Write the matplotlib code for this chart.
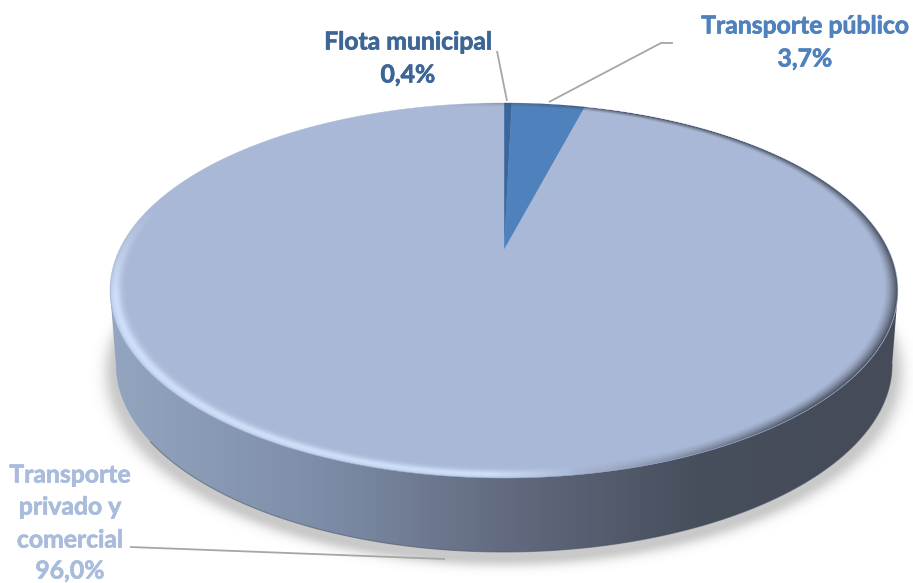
import numpy as np
import matplotlib
matplotlib.use("Agg")
import matplotlib.pyplot as plt
import matplotlib.patheffects as pe
from matplotlib.colors import LinearSegmentedColormap, to_rgb
from matplotlib.patches import Polygon

plt.rcParams['font.family'] = ['Lato', 'DejaVu Sans']

# Data
categories = ['Flota municipal', 'Transporte público', 'Transporte\nprivado y\ncomercial']
values = [0.4, 3.7, 96.0]
value_labels = ['0,4%', '3,7%', '96,0%']
slice_colors = ['#3b669c', '#4f81bd', '#a9b8d6']
label_colors = ['#3d6696', '#4f81bd', '#a9bcdc']

W, H = 913, 583

# Perspective of the pie disc, in picture pixels
X0, Y0 = 504, 250
RX = 384.7
A, C = -124.75, 0.216
DEPTH = 74


def project(u, v, dy=0.0, sx=1.0):
    return X0 + sx * RX * u / (1 + C * v), (A * v + Y0) / (1 + C * v) + dy


def unproject(x, y, dy=0.0, sx=1.0):
    v = (y - dy - Y0) / (A - C * (y - dy))
    u = (x - X0) * (1 + C * v) / (RX * sx)
    return u, v


fig = plt.figure(figsize=(W / 100, H / 100), dpi=100)
ax = fig.add_axes([0, 0, 1, 1])

# let pie work out the slice angles, then redraw them in perspective
wedges, _ = ax.pie(values, startangle=90, counterclock=False, normalize=True)
angles = [(w.theta1, w.theta2) for w in wedges]
for w in wedges:
    w.remove()
ax.set_aspect('auto')
ax.set_xlim(0, W)
ax.set_ylim(H, 0)
ax.axis('off')

xx, yy = np.meshgrid(np.arange(W) + 0.5, np.arange(H) + 0.5)
extent = (0, W, H, 0)

# soft shadow under the disc
u, v = unproject(xx, yy, DEPTH + 6, 0.985)
r = np.hypot(u, v)
d = np.clip((r - 1) * 360, 0, None)
shadow = np.zeros((H, W, 4))
shadow[..., :3] = 0.45
shadow[..., 3] = 0.38 * np.exp(-(d / 11) ** 2)
ax.imshow(shadow, extent=extent, zorder=1, aspect='auto')

# side wall with the horizontal gradient
side_cmap = LinearSegmentedColormap.from_list('side', [
    (0.0, '#93a4bf'), (0.25, '#7f8faa'), (0.5, '#626b80'),
    (0.75, '#474e5c'), (1.0, '#454b58')])
x_frac = np.clip((xx[0] - 115) / (892 - 115), 0, 1)[None, :]
side_img = ax.imshow(x_frac, cmap=side_cmap, vmin=0, vmax=1, extent=extent,
                     zorder=2, aspect='auto')
th = np.radians(np.linspace(180 + np.degrees(np.arcsin(C)), 360 - np.degrees(np.arcsin(C)), 300))
bx, by = project(np.cos(th), np.sin(th), DEPTH, 0.985)
tl = project(-np.sqrt(1 - C ** 2), -C)
tr = project(np.sqrt(1 - C ** 2), -C)
side_pts = np.vstack([[tl], np.column_stack([bx, by]), [tr]])
side_clip = Polygon(side_pts, closed=True, transform=ax.transData)
side_img.set_clip_path(side_clip)
low = th > np.radians(215)
ax.plot(bx[low], by[low], color='#4a5264', lw=0.8, alpha=0.55, zorder=3)

# top face, one perspective polygon per slice
for (t1, t2), color in zip(angles, slice_colors):
    th = np.radians(np.linspace(t1, t2, 500))
    px, py = project(np.cos(th), np.sin(th))
    ax.fill(np.r_[X0, px], np.r_[Y0, py], color=color, lw=0.3, zorder=4)

# bevel on the rim of the top face
u, v = unproject(xx, yy)
r = np.hypot(u, v)
rs = np.maximum(r, 1e-6)
s = (-u * 0.9 - v * 0.14) / rs
lower = np.clip((0.25 - v / rs) / 0.5, 0, 1)
inside = np.clip((1 - r) * 380, 0, 1)
light = np.zeros((H, W, 4))
light[..., :3] = to_rgb('#d6e6ff')
light[..., 3] = (inside * np.exp(-((r - 0.987) / 0.014) ** 2)
                 * np.clip(s * 5, 0, 0.85) * lower)
ax.imshow(light, extent=extent, zorder=5, aspect='auto')
dark = np.zeros((H, W, 4))
dark[..., :3] = to_rgb('#434957')
dark[..., 3] = inside * np.clip((r - 0.965) / 0.035, 0, 1) ** 1.5 * np.clip(-s * 2.0 + 0.05, 0, 1)
ax.imshow(dark, extent=extent, zorder=5, aspect='auto')

# leader lines
leader = dict(color='#a6a6a6', lw=1.3, zorder=6, solid_capstyle='butt')
ax.plot([497, 507], [51, 101], **leader)
ax.plot([549, 661, 673], [102, 43, 43], **leader)
ax.plot([130, 445], [547, 559], **leader)


# labels
def label(x, y, txt, color):
    ax.text(x, y, txt, color=color, fontsize=17.8, fontweight='bold',
            ha='center', va='center', zorder=7,
            path_effects=[pe.withStroke(linewidth=0.5, foreground=color)])


label(408, 42, categories[0], label_colors[0])
label(408, 75, value_labels[0], label_colors[0])
label(805, 26, categories[1], label_colors[1])
label(805, 59, value_labels[1], label_colors[1])
for y, line in zip([475, 507, 540], categories[2].split('\n')):
    label(70, y, line, label_colors[2])
label(70, 571, value_labels[2], label_colors[2])

ax.set_xlim(0, W)
ax.set_ylim(H, 0)
fig.savefig("out.png", dpi=100)
